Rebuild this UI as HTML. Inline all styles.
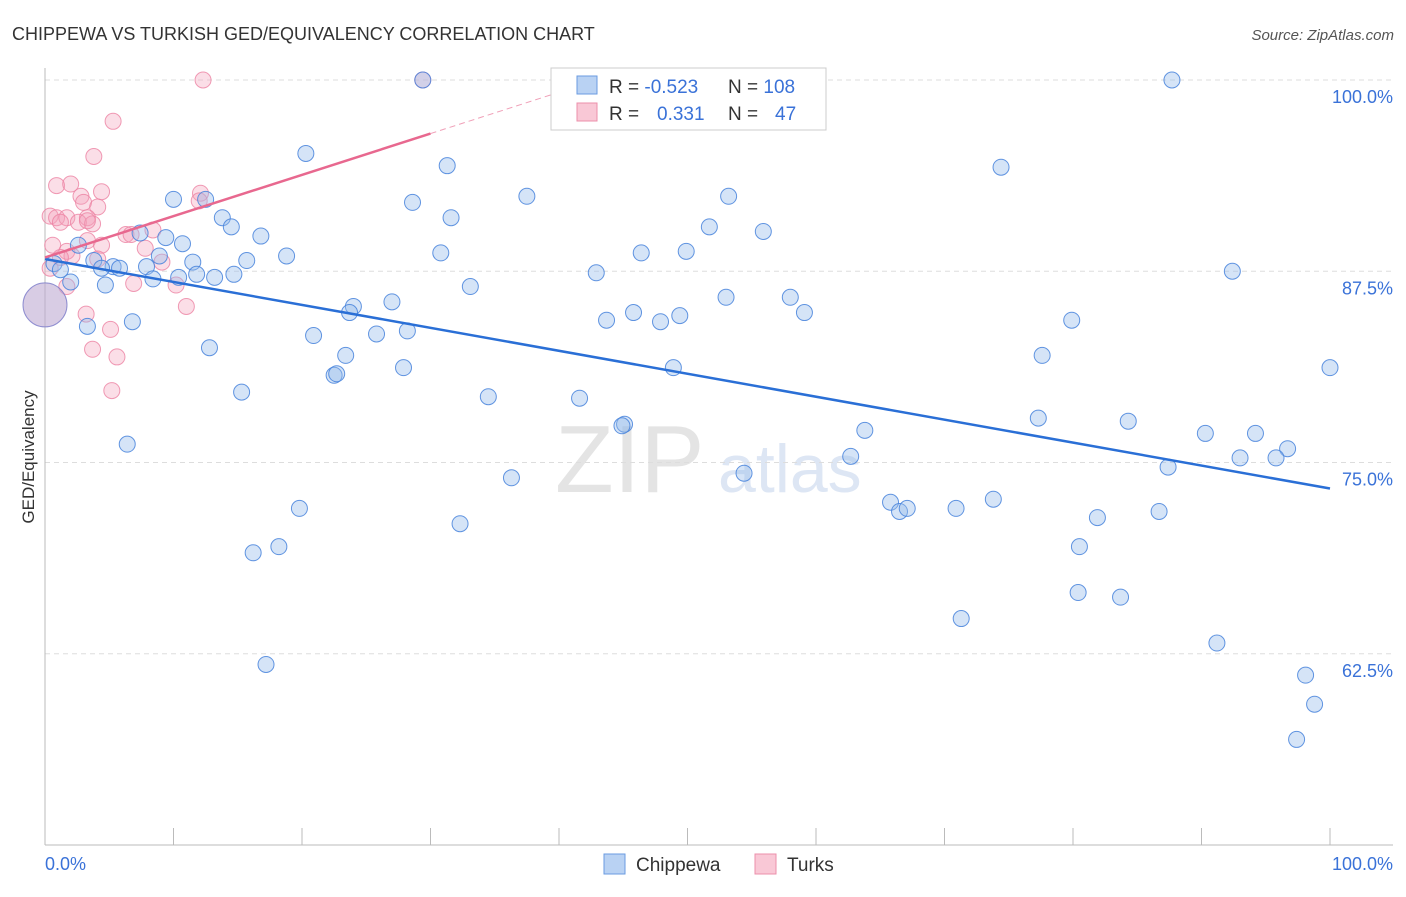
<!DOCTYPE html>
<html><head><meta charset="utf-8"><style>
body{margin:0;background:#fff;font-family:"Liberation Sans",sans-serif}
svg text{font-family:"Liberation Sans",sans-serif}
</style></head><body>
<svg width="1406" height="892" viewBox="0 0 1406 892">
<text x="12" y="40" font-size="18" fill="#333">CHIPPEWA VS TURKISH GED/EQUIVALENCY CORRELATION CHART</text>
<text x="1394" y="40" font-size="15" fill="#555" font-style="italic" text-anchor="end">Source: ZipAtlas.com</text>
<text x="555" y="492" font-size="96" fill="#e4e4e4" font-family="Liberation Serif">ZIP</text>
<text x="718" y="492" font-size="68" fill="#dde6f4">atlas</text>
<g id="grid"></g>
<g id="axes"></g>
<g id="marks"></g>
<text transform="translate(34,457) rotate(-90)" font-size="17" fill="#333" text-anchor="middle">GED/Equivalency</text>
<text x="45" y="870" font-size="18" fill="#3a72d8">0.0%</text>
<text x="1393" y="870" font-size="18" fill="#3a72d8" text-anchor="end">100.0%</text>
<g>
<rect x="551" y="68" width="275" height="62" fill="#fff" stroke="#ccc"/>
<rect x="577" y="76" width="20" height="18" fill="#b9d2f3" stroke="#6a9be0"/>
<rect x="577" y="103" width="20" height="18" fill="#f9c8d6" stroke="#ec8fab"/>
<text x="609" y="93" font-size="19" fill="#333">R = <tspan fill="#3a72d8">-0.523</tspan><tspan x="728">N = </tspan><tspan fill="#3a72d8">108</tspan></text>
<text x="609" y="120" font-size="19" fill="#333">R = <tspan x="657" fill="#3a72d8">0.331</tspan><tspan x="728">N = </tspan><tspan x="775" fill="#3a72d8">47</tspan></text>
</g>
<g>
<rect x="604" y="854" width="21" height="20" fill="#b9d2f3" stroke="#6a9be0"/>
<text x="636" y="871" font-size="19" fill="#333">Chippewa</text>
<rect x="755" y="854" width="21" height="20" fill="#f9c8d6" stroke="#ec8fab"/>
<text x="787" y="871" font-size="19" fill="#333">Turks</text>
</g>
</svg>
<script>
const yTicks=[100,87.5,75,62.5];
const yTickLabels=["100.0%","87.5%","75.0%","62.5%"];
const chipX=[87.7,29.4,20.3,31.3,74.4,37.5,53.2,10.0,12.5,28.6,31.6,13.8,14.5,51.7,55.9,7.4,16.8,9.4,10.7,2.6,30.8,46.4,49.9,18.8,8.9,3.8,15.7,11.5,0.7,5.3,5.8,7.9,4.4,1.2,92.4,42.9,10.4,11.8,14.7,13.2,8.4,2.0,4.7,33.1,27.0,53.0,58.0,24.0,23.7,45.8,59.1,43.7,47.9,49.4,79.9,6.8,3.3,28.2,20.9,25.8,12.8,23.4,77.6,27.9,48.9,100,22.5,22.7,15.3,34.5,41.6,77.3,84.3,45.1,44.9,63.8,90.3,94.2,6.4,96.7,62.7,93.0,95.8,87.4,54.4,36.3,73.8,65.8,66.5,67.1,70.9,19.8,86.7,81.9,32.3,80.5,18.2,16.2,80.4,83.7,71.3,91.2,17.2,98.1,98.8,97.4];
const chipY=[100,100,95.2,94.4,94.3,92.4,92.4,92.2,92.2,92.0,91.0,91.0,90.4,90.4,90.1,90.0,89.8,89.7,89.3,89.2,88.7,88.7,88.8,88.5,88.5,88.2,88.2,88.1,88.0,87.8,87.7,87.8,87.7,87.6,87.5,87.4,87.1,87.3,87.3,87.1,87.0,86.8,86.6,86.5,85.5,85.8,85.8,85.2,84.8,84.8,84.8,84.3,84.2,84.6,84.3,84.2,83.9,83.6,83.3,83.4,82.5,82.0,82.0,81.2,81.2,81.2,80.7,80.8,79.6,79.3,79.2,77.9,77.7,77.5,77.4,77.1,76.9,76.9,76.2,75.9,75.4,75.3,75.3,74.7,74.3,74.0,72.6,72.4,71.8,72.0,72.0,72.0,71.8,71.4,71.0,69.5,69.5,69.1,66.5,66.2,64.8,63.2,61.8,61.1,59.2,56.9];
const turkX=[12.3,29.4,5.3,3.8,0.9,2.0,4.4,2.8,3.0,4.1,12.1,12.0,0.4,0.9,1.7,3.3,1.2,2.6,3.7,3.3,6.3,6.7,8.4,3.3,4.4,0.6,7.8,1.7,2.1,4.1,9.1,1.2,0.4,6.9,10.2,1.7,11.0,3.2,5.1,3.7,5.6,5.2];
const turkY=[100,100,97.3,95.0,93.1,93.2,92.7,92.4,92.0,91.7,92.6,92.1,91.1,91.0,91.0,91.0,90.7,90.7,90.6,90.8,89.9,89.9,90.2,89.5,89.2,89.2,89.0,88.8,88.5,88.3,88.1,88.4,87.7,86.7,86.6,86.5,85.2,84.7,83.7,82.4,81.9,79.7];
const bigX=[0],bigY=[85.3];
const chipTrend=[88.3,73.3]; // y at x=0 and x=100
const turkTrend=[88.4,96.5,30]; // y at x=0, y at x=30 (solid end)
const X=v=>45+v*12.85, Y=v=>80+(100-v)*15.3;
const NS="http://www.w3.org/2000/svg";
function mk(t,a,p){const e=document.createElementNS(NS,t);for(const k in a)e.setAttribute(k,a[k]);p.appendChild(e);return e;}
const grid=document.getElementById('grid'),axes=document.getElementById('axes'),marks=document.getElementById('marks');
yTicks.forEach((t,i)=>{
 const l=mk('line',{x1:45,x2:1393,y1:Y(t),y2:Y(t),stroke:'#ddd','stroke-dasharray':'5,4'},grid);
 
 
 const tx=mk('text',{x:1393,y:Y(t)+23,'font-size':18,fill:'#3a72d8','text-anchor':'end'},grid);
 tx.textContent=yTickLabels[i];
 
 
});
const ya=mk('line',{x1:45,x2:45,y1:68,y2:845,stroke:'#bbb'},axes);


const xa=mk('line',{x1:45,x2:1393,y1:845,y2:845,stroke:'#bbb'},axes);


for(let i=1;i<=10;i++){const tk=mk('line',{x1:X(i*10),x2:X(i*10),y1:828,y2:845,stroke:'#bbb'},axes);
 
 }
turkX.forEach((x,i)=>{const c=mk('circle',{cx:X(x),cy:Y(turkY[i]),r:8,fill:'rgba(244,160,186,0.35)',stroke:'rgba(236,130,162,0.8)','stroke-width':1},marks);
 
 });
chipX.forEach((x,i)=>{const c=mk('circle',{cx:X(x),cy:Y(chipY[i]),r:8,fill:'rgba(150,187,236,0.4)',stroke:'rgba(70,130,220,0.85)','stroke-width':1},marks);
 
 });
bigX.forEach((x,i)=>{const c=mk('circle',{cx:X(x),cy:Y(bigY[i]),r:22,fill:'rgba(190,170,210,0.6)',stroke:'rgba(120,120,200,0.8)'},marks);
 
 });
const tl=mk('line',{x1:X(0),y1:Y(chipTrend[0]),x2:X(100),y2:Y(chipTrend[1]),stroke:'#2a6fd6','stroke-width':2.5},marks);


const slope=(turkTrend[1]-turkTrend[0])/turkTrend[2];
const pl=mk('line',{x1:X(0),y1:Y(turkTrend[0]),x2:X(turkTrend[2]),y2:Y(turkTrend[1]),stroke:'#e8688f','stroke-width':2.5},marks);


const xEnd=(100-turkTrend[0])/slope;
const pd=mk('line',{x1:X(turkTrend[2]),y1:Y(turkTrend[1]),x2:X(xEnd),y2:Y(100),stroke:'#f0a0b8','stroke-width':1,'stroke-dasharray':'6,4'},marks);


</script>
</body></html>
